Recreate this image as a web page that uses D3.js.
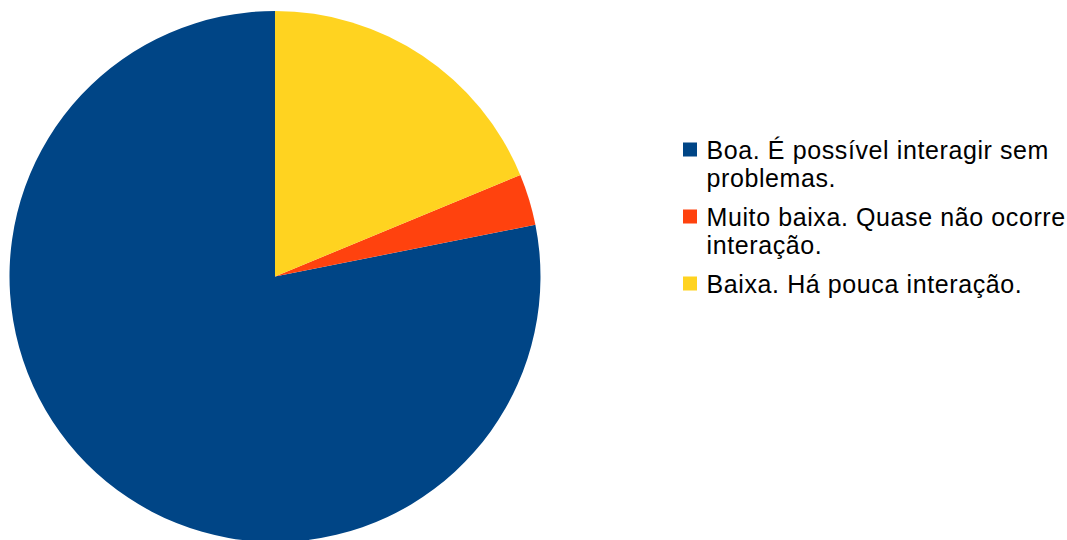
<!DOCTYPE html>
<html><head><meta charset="utf-8">
<script src="https://cdn.jsdelivr.net/npm/d3@7"></script>
<style>html,body{margin:0;padding:0;background:#fff;overflow:hidden}</style>
</head><body>
<svg id="c" width="1067" height="540"></svg>
<script>
const categories = ["Boa. É possível interagir sem problemas.", "Muito baixa. Quase não ocorre interação.", "Baixa. Há pouca interação."];
const values = [25, 1, 6];
const colors = ["#004586", "#ff420e", "#ffd320"];

const svg = d3.select("#c");
const cx = 275, cy = 276.5, r = 265.5;

const pie = d3.pie().sort(null).value(d => d)
  .startAngle(0).endAngle(-2 * Math.PI);
const arc = d3.arc().innerRadius(0).outerRadius(r);

svg.append("g").attr("transform", `translate(${cx},${cy})`)
  .selectAll("path").data(pie(values)).join("path")
  .attr("d", arc).attr("fill", (d, i) => colors[i]);

const font = "'Liberation Sans', Arial, sans-serif";
const fs = 25;
const maxW = 365;
const lg = svg.append("g").attr("font-family", font).attr("font-size", fs)
  .attr("letter-spacing", 0.6).attr("fill", "#000");
const firstBaseline = 158.5, lineH = 28.4, itemGap = 10.2;
let y = firstBaseline;
categories.forEach((label, i) => {
  const t = lg.append("text").attr("x", 706.5).attr("y", y);
  const words = label.split(" ");
  let lines = [], cur = "";
  const probe = lg.append("text").attr("visibility", "hidden");
  words.forEach(w => {
    const test = cur ? cur + " " + w : w;
    probe.text(test);
    if (probe.node().getComputedTextLength() > maxW && cur) { lines.push(cur); cur = w; }
    else cur = test;
  });
  lines.push(cur);
  probe.remove();
  lines.forEach((ln, k) => {
    t.append("tspan").attr("x", 706.5).attr("dy", k === 0 ? 0 : lineH).text(ln);
  });
  lg.append("rect").attr("x", 683).attr("y", y - 16).attr("width", 14).attr("height", 14)
    .attr("fill", colors[i]);
  y += lines.length * lineH + itemGap;
});
</script>
</body></html>
